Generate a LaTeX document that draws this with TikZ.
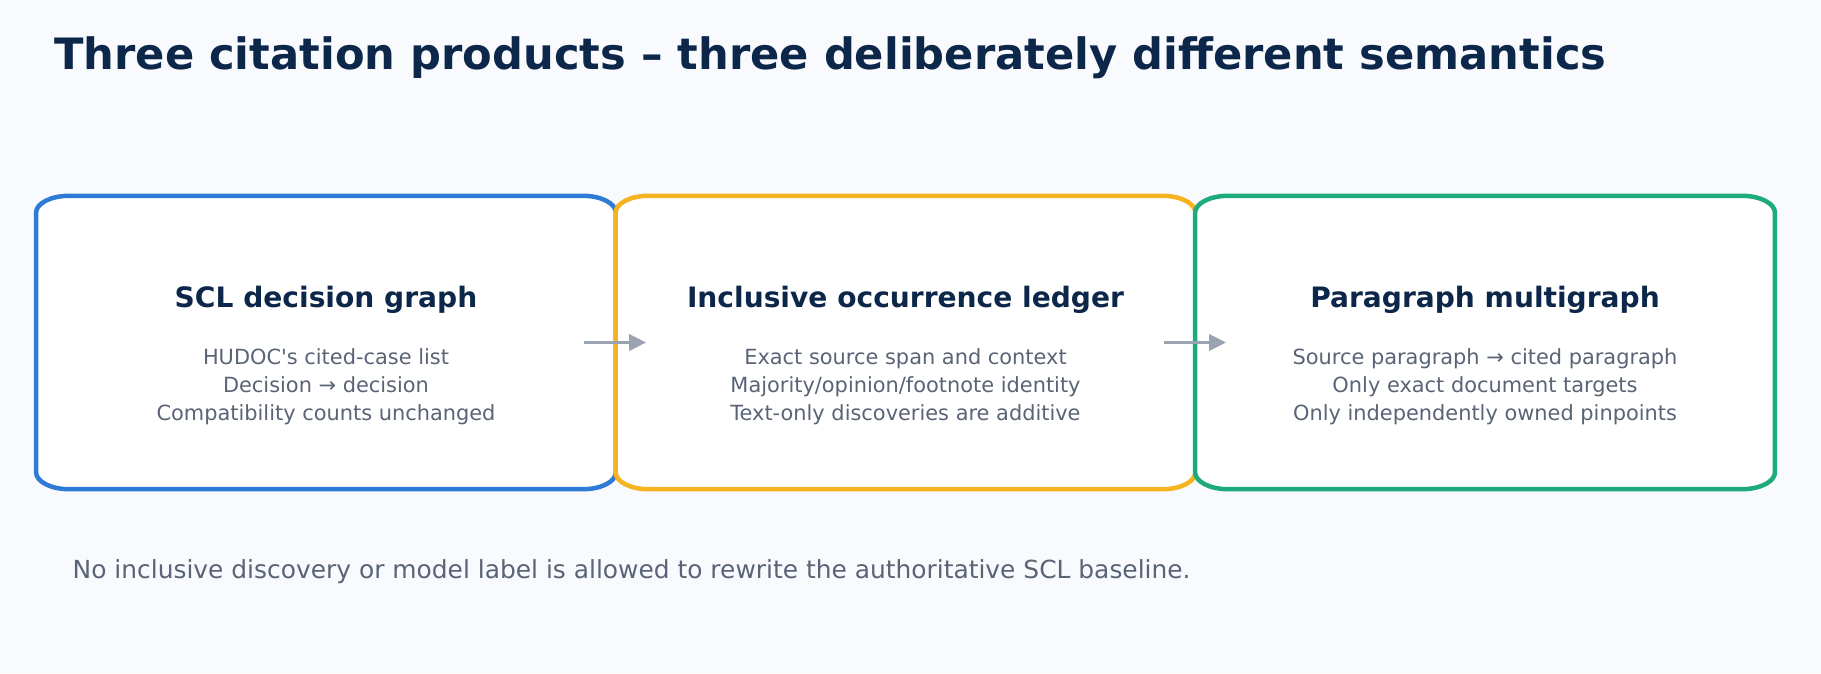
\documentclass[tikz,border=0pt]{standalone}
\usepackage{fontspec}
\setmainfont{DejaVu Sans}
\usetikzlibrary{calc,arrows.meta}
\definecolor{bgc}{HTML}{F8FAFD}
\definecolor{titlec}{HTML}{0C2749}
\definecolor{bodyc}{HTML}{5A6476}
\definecolor{bluec}{HTML}{2E7BD6}
\definecolor{orangec}{HTML}{F5B320}
\definecolor{greenc}{HTML}{1DAB7B}
\definecolor{arrowc}{HTML}{9AA3B0}
\newcommand\straightq{{\XeTeXglyph\the\XeTeXcharglyph"27\relax}}
\newcommand\cbox[2]{%
  \draw[boxline, draw=#2]
    ([xshift=33pt]#1.north west) -- ([xshift=-33pt]#1.north east)
    arc[start angle=90, end angle=0, x radius=33pt, y radius=17pt]
    -- ([yshift=17pt]#1.south east)
    arc[start angle=0, end angle=-90, x radius=33pt, y radius=17pt]
    -- ([xshift=33pt]#1.south west)
    arc[start angle=270, end angle=180, x radius=33pt, y radius=17pt]
    -- ([yshift=-17pt]#1.north west)
    arc[start angle=180, end angle=90, x radius=33pt, y radius=17pt]
    -- cycle;}
\tikzset{
  boxframe/.style={rectangle, minimum width=579.5pt, minimum height=293pt, inner sep=0pt, draw=none},
  boxline/.style={line width=4.5pt, fill=white, line join=round},
  titletext/.style={anchor=base west, inner sep=0pt, text=titlec, font=\fontsize{43.2}{48}\selectfont\bfseries},
  headtext/.style={anchor=base, inner sep=0pt, text=titlec, font=\fontsize{28.1}{32}\selectfont\bfseries},
  bodytext/.style={anchor=base, inner sep=0pt, text=bodyc, font=\fontsize{20.9}{24}\selectfont},
  foottext/.style={anchor=base west, inner sep=0pt, text=bodyc, font=\fontsize{24.9}{28}\selectfont},
  flowarrow/.style={draw=arrowc, line width=2.6pt, -{Triangle[length=17pt, width=16.5pt]}}
}
\begin{document}
\begin{tikzpicture}[x=1pt, y=1pt]
\fill[bgc] (0,0) rectangle (1821,-673);
\useasboundingbox (0,0) rectangle (1821,-673);

\node[boxframe] (b1) at (326.0,-342.5) {};
\node[boxframe] (b2) at (905.5,-342.5) {};
\node[boxframe] (b3) at (1485.0,-342.5) {};

\cbox{b1}{bluec}
\cbox{b2}{orangec}
\cbox{b3}{greenc}

\node[titletext] (title) at (54,-69) {Three citation products – three deliberately different semantics};

\node[headtext] (h1) at (326.0,-307.7) {SCL decision graph};
\node[bodytext] (l11) at (326.0,-364.3) {HUDOC\straightq s cited-case list};
\node[bodytext] (l12) at (326.0,-392.5) {Decision → decision};
\node[bodytext] (l13) at (326.0,-420.7) {Compatibility counts unchanged};

\node[headtext] (h2) at (905.5,-307.7) {Inclusive occurrence ledger};
\node[bodytext] (l21) at (905.5,-364.3) {Exact source span and context};
\node[bodytext] (l22) at (905.5,-392.5) {Majority/opinion/footnote identity};
\node[bodytext] (l23) at (905.5,-420.7) {Text-only discoveries are additive};

\node[headtext] (h3) at (1485.0,-307.7) {Paragraph multigraph};
\node[bodytext] (l31) at (1485.0,-364.3) {Source paragraph → cited paragraph};
\node[bodytext] (l32) at (1485.0,-392.5) {Only exact document targets};
\node[bodytext] (l33) at (1485.0,-420.7) {Only independently owned pinpoints};

\coordinate (a1s) at (584,-342.5);
\coordinate (a1e) at (646,-342.5);
\coordinate (a2s) at (1164,-342.5);
\coordinate (a2e) at (1226,-342.5);
\draw[flowarrow] (a1s) -- (a1e);
\draw[flowarrow] (a2s) -- (a2e);

\node[foottext] (foot) at (72.5,-578.5) {No inclusive discovery or model label is allowed to rewrite the authoritative SCL baseline.};
\end{tikzpicture}
\end{document}
